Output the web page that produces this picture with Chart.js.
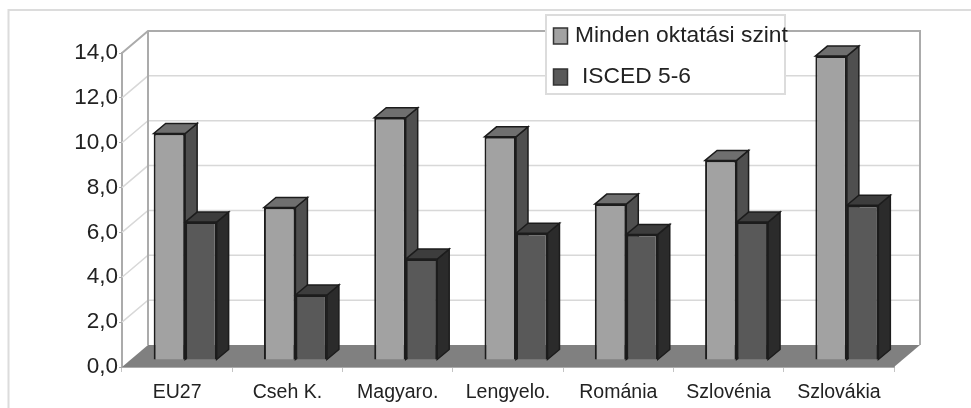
<!DOCTYPE html>
<html>
<head>
<meta charset="utf-8">
<style>
  html, body { margin: 0; padding: 0; background: #fff; }
  canvas { display: block; filter: blur(0.45px); }
</style>
<script src="https://cdn.jsdelivr.net/npm/chart.js@4"></script>
</head>
<body>
<canvas id="chart" width="971" height="408"></canvas>
<script>
const categories = ['EU27', 'Cseh K.', 'Magyaro.', 'Lengyelo.', 'Románia', 'Szlovénia', 'Szlovákia'];
const allLevels = [10.1, 6.8, 10.8, 9.95, 6.95, 8.9, 13.55];
const isced56 = [6.15, 2.9, 4.5, 5.65, 5.6, 6.15, 6.9];
const yTicks = [0, 2, 4, 6, 8, 10, 12, 14];

// fake 3D: how far the wall sits behind the axes, and the bars' own offset/depth
const wall = { dx: 26, dy: -22 };
const barShift = { dx: 8, dy: -7 };
const barDepth = { dx: 12, dy: -10 };

const faces = [
  { top: '#6f6f6f', side: '#4f4f4f' },
  { top: '#3d3d3d', side: '#2b2b2b' }
];

function poly(ctx, pts, fill, stroke, lw) {
  ctx.beginPath();
  pts.forEach((p, i) => i ? ctx.lineTo(p[0], p[1]) : ctx.moveTo(p[0], p[1]));
  ctx.closePath();
  if (fill) { ctx.fillStyle = fill; ctx.fill(); }
  if (stroke) { ctx.strokeStyle = stroke; ctx.lineWidth = lw; ctx.stroke(); }
}

function line(ctx, pts, color, lw) {
  ctx.beginPath();
  pts.forEach((p, i) => i ? ctx.lineTo(p[0], p[1]) : ctx.moveTo(p[0], p[1]));
  ctx.strokeStyle = color;
  ctx.lineWidth = lw;
  ctx.stroke();
}

function drawDepth(chart, index) {
  const ctx = chart.ctx;
  const f = faces[index];
  chart.getDatasetMeta(index).data.forEach(bar => {
    const r = bar.x + bar.width / 2, l = bar.x - bar.width / 2;
    const t = bar.y, b = bar.base;
    const dx = barDepth.dx, dy = barDepth.dy;
    poly(ctx, [[r, t], [r + dx, t + dy], [r + dx, b + dy], [r, b]], f.side, '#1c1c1c', 1.5);
    poly(ctx, [[l, t], [l + dx, t + dy], [r + dx, t + dy], [r, t]], f.top, '#1c1c1c', 1.5);
  });
}

const chart3d = {
  id: 'chart3d',
  beforeDraw(chart) {
    // outer frame, open on the right and bottom
    line(chart.ctx, [[8.5, 408], [8.5, 10], [971, 10]], '#dcdcdc', 2);
  },
  beforeDatasetsDraw(chart) {
    const { ctx, chartArea: a, scales: { y } } = chart;
    const bx = a.left + wall.dx, by = wall.dy;
    yTicks.slice(1, -1).forEach(v => {
      const py = y.getPixelForValue(v);
      line(ctx, [[a.left, py], [bx, py + by], [a.right + wall.dx, py + by]], '#d8d8d8', 1.5);
    });
    const top = y.getPixelForValue(14), base = y.getPixelForValue(0);
    line(ctx, [[a.left, top], [bx, top + by], [a.right + wall.dx, top + by], [a.right + wall.dx, base + by]], '#ababab', 2);
    line(ctx, [[bx, top + by], [bx, base + by]], '#ababab', 2);
    poly(ctx, [[a.left, base], [a.right, base], [a.right + wall.dx, base + by], [bx, base + by]], '#808080');
  },
  // Chart.js paints the last dataset first, so both sets of side faces go in
  // before the dark fronts; otherwise the light bars' sides would cover them
  beforeDatasetDraw(chart, args) {
    chart.ctx.save();
    chart.ctx.translate(barShift.dx, barShift.dy);
    if (args.index === 1) {
      drawDepth(chart, 0);
      drawDepth(chart, 1);
    }
  },
  afterDatasetDraw(chart) {
    chart.ctx.restore();
  },
  afterDraw(chart) {
    const ctx = chart.ctx;
    ctx.save();
    ctx.fillStyle = '#fff';
    ctx.fillRect(546, 15, 239, 79);
    ctx.strokeStyle = '#dcdcdc';
    ctx.lineWidth = 2;
    ctx.strokeRect(546, 15, 239, 79);
    ctx.font = '22.8px "Liberation Sans"';
    ctx.textBaseline = 'middle';
    const rows = [{ y: 36, tx: 575 }, { y: 77, tx: 582 }];
    chart.data.datasets.forEach((ds, i) => {
      ctx.fillStyle = ds.backgroundColor;
      ctx.strokeStyle = '#333';
      ctx.lineWidth = 1.5;
      ctx.fillRect(553.5, rows[i].y - 8, 14, 16);
      ctx.strokeRect(553.5, rows[i].y - 8, 14, 16);
      ctx.fillStyle = '#222';
      ctx.fillText(ds.label, rows[i].tx, rows[i].y);
    });
    ctx.restore();
  }
};

new Chart(document.getElementById('chart'), {
  type: 'bar',
  data: {
    labels: categories,
    datasets: [
      { label: 'Minden oktatási szint', data: allLevels, backgroundColor: '#a2a2a2' },
      { label: 'ISCED 5-6', data: isced56, backgroundColor: '#595959' }
    ]
  },
  options: {
    responsive: false,
    animation: false,
    layout: { autoPadding: false, padding: { top: 53, right: 77 } },
    datasets: {
      bar: {
        categoryPercentage: 0.571,
        barPercentage: 1,
        borderWidth: 2,
        borderColor: '#1c1c1c',
        clip: false
      }
    },
    plugins: { legend: { display: false }, tooltip: { enabled: false } },
    scales: {
      x: {
        afterFit(s) { s.height = 41; },
        border: { color: '#ababab', width: 2 },
        grid: { drawOnChartArea: false, tickLength: 5, color: '#c4c4c4' },
        ticks: { color: '#222', font: { family: 'Liberation Sans', size: 19.5 }, padding: 9, maxRotation: 0 }
      },
      y: {
        min: 0,
        max: 14,
        afterFit(s) { s.width = 122; },
        afterBuildTicks(s) { s.ticks = yTicks.map(v => ({ value: v })); },
        border: { color: '#ababab', width: 2 },
        grid: { drawOnChartArea: false, tickLength: 3, color: '#ababab' },
        ticks: {
          color: '#222',
          font: { family: 'Liberation Sans', size: 22.5 },
          padding: 1,
          callback: v => v.toFixed(1).replace('.', ',')
        }
      }
    }
  },
  plugins: [chart3d]
});
</script>
</body>
</html>
